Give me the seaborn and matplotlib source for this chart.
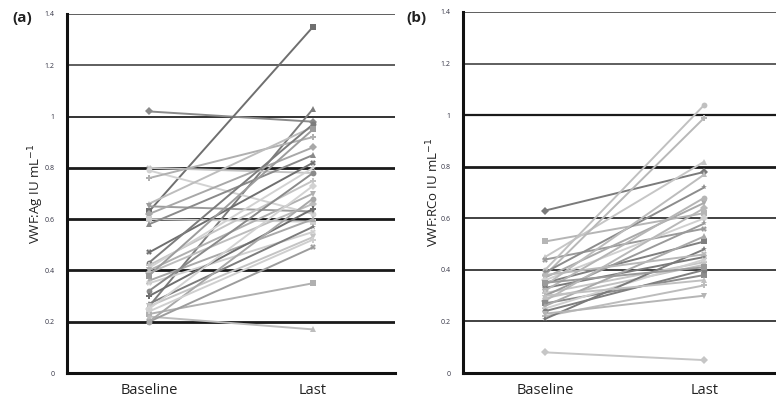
import matplotlib
matplotlib.use("Agg")
import matplotlib.pyplot as plt
import seaborn as sns
import pandas as pd
import numpy as np

sns.set_style("white")
plt.rcParams['font.family'] = ['Open Sans', 'DejaVu Sans']

categories = ["Baseline", "Last"]
ytick_labels = ["0", "0.2", "0.4", "0.6", "0.8", "1", "1.2", "1.4"]

# Panel (a) VWF:Ag
ag_baseline = [1.02, 0.63, 0.26, 0.80, 0.79, 0.76, 0.66, 0.65, 0.62, 0.60,
               0.58, 0.47, 0.43, 0.42, 0.41, 0.40, 0.39, 0.38, 0.36, 0.35,
               0.32, 0.30, 0.27, 0.26, 0.25, 0.23, 0.22, 0.20, 0.20, 0.24]
ag_last = [0.98, 1.35, 1.03, 0.78, 0.62, 0.92, 0.96, 0.63, 0.88, 0.59,
           0.85, 0.82, 0.97, 0.75, 0.80, 0.70, 0.66, 0.95, 0.60, 0.55,
           0.78, 0.64, 0.57, 0.53, 0.73, 0.35, 0.17, 0.49, 0.68, 0.52]

# Panel (b) VWF:RCo
rco_baseline = [0.63, 0.51, 0.45, 0.44, 0.40, 0.38, 0.39, 0.37, 0.36, 0.35,
                0.34, 0.33, 0.32, 0.31, 0.30, 0.29, 0.28, 0.27, 0.26, 0.25,
                0.24, 0.22, 0.21, 0.23, 0.08, 0.35, 0.30, 0.38]
rco_last = [0.78, 0.62, 0.82, 0.56, 1.04, 0.99, 0.72, 0.66, 0.60, 0.51,
            0.77, 0.45, 0.68, 0.43, 0.58, 0.42, 0.64, 0.38, 0.53, 0.44,
            0.40, 0.34, 0.48, 0.30, 0.05, 0.41, 0.36, 0.46]

def long_df(base, last):
    rows = []
    for i, (b, l) in enumerate(zip(base, last)):
        rows.append({"patient": i, "time": 0, "value": b})
        rows.append({"patient": i, "time": 1, "value": l})
    return pd.DataFrame(rows)

W, H = 776, 401
fig = plt.figure(figsize=(W / 100, H / 100), dpi=100)

grays_a = ["#8a8a8a", "#6f6f6f", "#7c7c7c", "#c4c4c4", "#d2d2d2", "#b0b0b0", "#bdbdbd",
           "#9c9c9c", "#a8a8a8", "#cfcfcf"]
grays_b = ["#7a7a7a", "#b5b5b5", "#c6c6c6", "#9a9a9a", "#c0c0c0", "#b8b8b8", "#8c8c8c",
           "#a9a9a9", "#d0d0d0", "#7f7f7f", "#bcbcbc"]
marker_cycle = ["D", "s", "^", "X", "o", "P", "*", "v"]

def panel(rect, base, last, ylabel, xlim, minor, grid_w, grays):
    ax = fig.add_axes(rect)
    df = long_df(base, last)
    n = len(base)
    pal = [grays[i % len(grays)] for i in range(n)]
    mk = [marker_cycle[i % len(marker_cycle)] for i in range(n)]
    for v, lw in grid_w.items():
        ax.axhline(v, color="#1a1a1a" if lw > 1.5 else "#333333", lw=lw, zorder=0.5)
    sns.lineplot(data=df, x="time", y="value", hue="patient", style="patient",
                 palette=pal, markers=mk, dashes=False, legend=False,
                 lw=1.4, markersize=4.2, markeredgewidth=0, ax=ax, zorder=2)
    ax.set_xlim(*xlim)
    ax.set_ylim(0, 1.4)
    ax.set_yticks(np.arange(0, 1.41, 0.2))
    ax.set_yticklabels(ytick_labels, fontsize=5, color="#333344")
    ax.set_xticks([0, 1])
    ax.set_xticklabels(categories, fontsize=10.5, color="#222222")
    ax.set_xticks(minor, minor=True)
    ax.tick_params(axis="x", which="major", length=0, pad=7)
    ax.tick_params(axis="x", which="minor", length=5, width=1.5, color="#111111")
    ax.tick_params(axis="y", which="major", length=4, width=1.5, color="#111111", pad=5)
    ax.set_xlabel("")
    ax.set_ylabel(ylabel, fontsize=9.5, color="#222222", labelpad=-1)
    for s in ["top", "right"]:
        ax.spines[s].set_visible(False)
    for s in ["left", "bottom"]:
        ax.spines[s].set_linewidth(2.2)
        ax.spines[s].set_color("#111111")
        ax.spines[s].set_zorder(3)
    return ax

top_a = 1 - 14 / H
bot = 1 - 373 / H
ax_a = panel([67 / W, bot, (395 - 67) / W, top_a - bot], ag_baseline, ag_last,
             "VWF:Ag IU mL$^{-1}$", (-0.5, 1.5), [0.5, 1.5],
             {0.2: 2.0, 0.4: 2.0, 0.6: 2.0, 0.8: 2.0, 1.0: 1.4, 1.2: 1.1, 1.4: 1.1},
             grays_a)
top_b = 1 - 12 / H
ax_b = panel([463 / W, bot, (776 - 463) / W, top_b - bot], rco_baseline, rco_last,
             "VWF:RCo IU mL$^{-1}$", (-0.516, 1.45), [0.5],
             {0.2: 1.3, 0.4: 1.3, 0.6: 1.3, 0.8: 2.0, 1.0: 1.6, 1.2: 1.1, 1.4: 1.1},
             grays_b)

fig.text(12 / W, 1 - 18 / H, "(a)", fontsize=11, fontweight="bold", color="#222222", va="center")
fig.text(406 / W, 1 - 18 / H, "(b)", fontsize=11, fontweight="bold", color="#222222", va="center")

fig.savefig("out.png", dpi=100)
